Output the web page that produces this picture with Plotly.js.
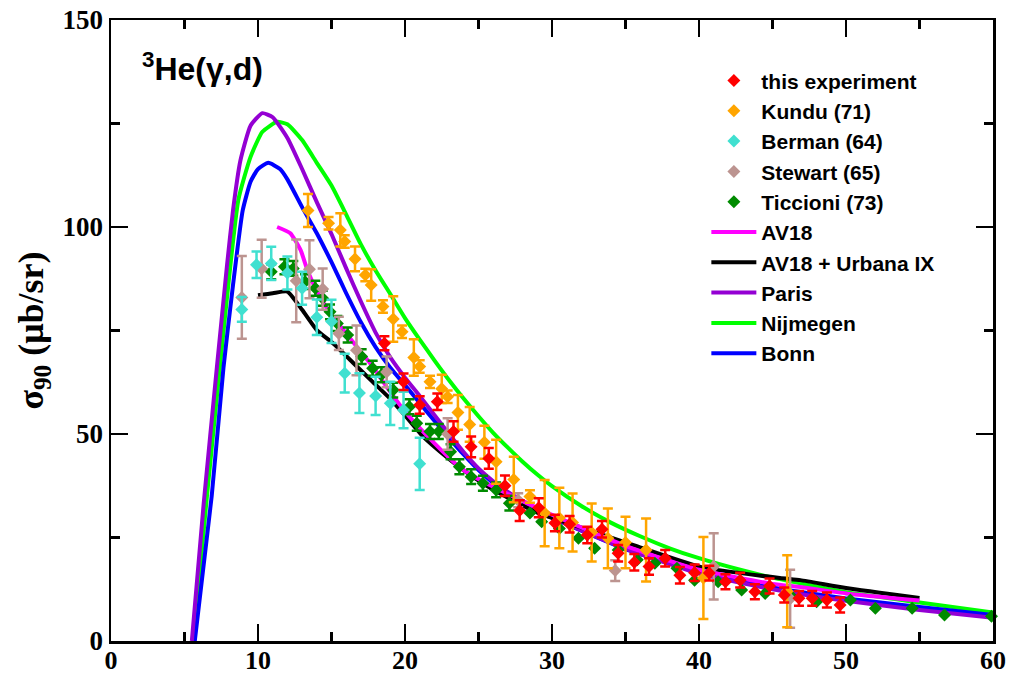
<!DOCTYPE html>
<html>
<head>
<meta charset="utf-8">
<script src="https://cdn.plot.ly/plotly-3.0.1.min.js"></script>
<style>html,body{margin:0;padding:0;background:#fff;}#chart{width:1012px;height:676px;}</style>
</head>
<body>
<div id="chart"></div>
<script>
// ---- data ----
const expX = [18.6,19.9,21.0,22.2,23.3,24.5,25.7,26.8,27.8,29.1,30.2,31.2,32.4,33.4,34.5,35.6,36.6,37.7,38.7,39.7,40.7,41.8,42.8,43.8,44.8,45.8,46.8,47.7,48.7,49.6];
const expY = [71.9,62.6,57.0,57.8,50.6,46.9,44.1,37.5,31.5,32.2,28.5,28.2,25.6,27.0,21.2,19.0,18.0,20.0,15.9,16.5,16.4,14.3,14.7,11.9,13.3,11.1,10.3,10.3,9.9,8.7];
const expE = [1.7,2,2.1,2,2.5,2.5,2.5,2.5,2.5,2.3,2,2,2,2,2,2,2,2,2,2,1.8,1.8,1.8,1.8,1.8,1.8,1.8,1.8,1.8,1.8];

const kunduX = [13.4,14.8,15.6,15.9,16.6,17.3,17.7,18.5,19.2,19.8,20.6,21.0,21.7,22.5,22.9,23.6,24.4,25.4,26.2,27.4,28.5,29.5,30.5,31.4,32.7,33.8,35.0,36.4,40.3,46.0];
const kunduY = [104,100.9,99.3,96.5,92.3,88.4,86,80.8,77.8,74.7,68.5,66.3,62.6,60.9,59,55.2,52.3,48,43.3,39,34.9,30.9,29.7,28.6,26.2,24.8,23.8,22,15.2,12];
const kunduE = [4,1.5,4,1.5,3,1.5,3.8,1.5,5.5,1.5,4.4,1.5,1.5,3.4,1.5,4.2,4.2,4,5.3,5.5,1.5,8,7.3,7,7,7.2,6.2,7.6,9.9,8.7];

const bermanX = [8.9,9.9,10.9,12.0,13.0,14.0,15.0,15.9,16.9,18.0,19.0,19.9,21.0];
const bermanY = [80.1,90.9,91.2,88.9,85.2,78.2,77.2,64.7,59.9,59.2,57.4,55.8,42.8];
const bermanE = [3,3.2,4,4,4,4.3,5.2,4.7,4.8,4.6,5.2,4.4,6.3];

const stewartX = [8.9,10.25,12.6,13.5,14.4,15.5,16.7,18.75,22.9,27.7,34.3,41.0,46.2];
const stewartY = [83,89.9,87,89.8,85,74.3,70.2,65,50,34,17,18,10.2];
const stewartE = [10,7,10,7,5,4,6,3.7,3.8,1.7,2.5,8,7];

const ticX = [10.9,11.8,12.4,13.2,13.9,14.4,14.9,15.4,16.1,17.05,17.8,18.4,19.2,20.3,20.8,21.7,22.3,23.1,23.7,24.5,25.3,26.2,27.1,28.5,29.3,30.5,31.8,32.9,34.5,35.8,37.0,38.5,39.7,41.3,42.9,44.5,46.2,48.0,50.3,52.0,54.5,56.7,59.9];
const ticY = [89.2,90.4,90,86.8,85.2,82.8,79.5,76.7,73.9,68.7,65.9,64.3,60.6,56.6,52.6,50.6,50.6,45.7,42.1,39.7,38.1,36.5,33.3,30.9,28.8,27.2,24.8,22.4,22,19.6,18.8,17.6,14.7,14.3,12.3,11.5,11.1,9.5,9.9,7.9,7.9,6.3,6];
const ticE = [1.8,1.8,1.8,1.8,1.8,1.8,1.8,1.8,1.8,1.8,1.8,1.8,1.8,1.8,1.8,1.8,1.8,1.8,1.8,1.8,1.8,1.8,1.8,0,0,0,0,0,0,0,0,0,0,0,0,0,0,0,0,0,0,0,0];

const av18X = [11.3,12.2,12.9,13.4,14.2,15.1,16.0,16.9,17.8,18.75,20.1,21.25,22.5,23.7,25.1,26.9,30,35,40,45,47,50,55];
const av18Y = [100,98.5,94.4,89.2,83.2,78.3,74.3,70.3,66.3,61.4,55,50.5,46.0,42.0,38.9,35.7,30.5,23,17.2,13.8,13,11.5,9.8];

const uixX = [10,11,12,13,14,15.1,16.5,17.8,19.0,20,21.25,22.8,24,25.5,27,29,31.9,35.5,40.1,45.5,46.9,50,55];
const uixY = [83.5,84,84.4,80,75.1,71.9,67.1,62.6,58.5,54.5,49.3,44.5,41.2,37.6,34.6,31,27.5,23.2,17.9,15.2,14.7,12.8,10.4];

const parisX = [5.5,6.3,7.2,7.9,8.3,8.8,9.5,10.3,11,12,13,14,15,16,17,18,19,20,21,22,23,24,25,26,27,28,30,32,35,40,45,50,55,60];
const parisY = [0,33,66,91,104,116,124.5,127.5,126.5,121.5,114,106,98.3,90,82,74.5,68.5,63.6,59.2,54.6,50,45.6,41.7,38.6,36,33.9,30,26.7,22.3,16.3,12.5,9.7,7.5,5.6];

const nijX = [5.6,6.5,7.4,8.66,9.5,10.3,11.3,12,13,14,15,16,17,18,19,20,21,22,23,24,25,26,27,28,29,30,32,34,36,38,40,42.8,45,50,55,60];
const nijY = [0,34,66,106.5,117,123,125.4,124.8,121,115.5,110,103,95.8,89.5,83.8,78,72.8,67.8,63,58.5,54.3,50.3,46.7,43.3,40.2,37.4,32.6,28.6,25.3,22.4,20,17.2,15.3,11.8,9.3,6.9];

const bonnX = [5.7,6.85,7.65,8.3,8.96,9.5,10,10.7,11.5,12,13,14,15,16,17,18,19,20,21,22,23,24,25,26,27,28,30,35,40,45,50,55,60];
const bonnY = [0,35,66,86,104,111,114,115.5,114,111.5,104.8,98.5,91.5,84,77,71,66,61.8,57.5,53.2,49,45,41.3,38.2,35.7,33.6,29.8,22.2,16.6,12.9,10.3,8.2,6.3];

// ---- styling ----
const serif = 'Liberation Serif, Times New Roman, serif';
const sans = 'Liberation Sans, Arial, sans-serif';

function pts(name, x, y, e, color, rank) {
  return {
    type: 'scatter', mode: 'markers', name: name, x: x, y: y, legendrank: rank,
    marker: {symbol: 'diamond', size: 10, color: color, line: {width: 0}},
    error_y: {type: 'data', array: e, visible: true, color: color, thickness: 2.5, width: 5},
    cliponaxis: false
  };
}
function curve(name, x, y, color, rank) {
  return {
    type: 'scatter', mode: 'lines', name: name, x: x, y: y, legendrank: rank,
    line: {color: color, width: 4, shape: 'spline', smoothing: 0.5}
  };
}

const data = [
  curve('Nijmegen', nijX, nijY, '#00ff00', 9),
  curve('Bonn', bonnX, bonnY, '#0000ff', 10),
  curve('Paris', parisX, parisY, '#9400d3', 8),
  curve('AV18 + Urbana IX', uixX, uixY, '#000000', 7),
  curve('AV18', av18X, av18Y, '#ff00ff', 6),
  pts('Ticcioni (73)', ticX, ticY, ticE, '#008b00', 5),
  pts('Stewart (65)', stewartX, stewartY, stewartE, '#bc9490', 4),
  pts('Berman (64)', bermanX, bermanY, bermanE, '#40e0d0', 3),
  pts('Kundu (71)', kunduX, kunduY, kunduE, '#ffa500', 2),
  pts('this experiment', expX, expY, expE, '#ff0000', 1)
];

const axisCommon = {
  ticks: 'inside', ticklen: 17, tickwidth: 2.5, tickcolor: '#000',
  showline: true, linewidth: 2.5, linecolor: '#000', mirror: 'allticks',
  showgrid: false, zeroline: false, fixedrange: true
};

const layout = {
  width: 1012, height: 676,
  margin: {l: 111, r: 19, t: 20, b: 35},
  paper_bgcolor: '#fff', plot_bgcolor: '#fff',
  showlegend: true,
  xaxis: Object.assign({}, axisCommon, {
    range: [0, 60], tick0: 0, dtick: 10, ticklabelstandoff: -6,
    tickfont: {family: serif, size: 26, color: '#000', weight: 'bold'},
    minor: {dtick: 5, ticks: 'inside', ticklen: 9, tickwidth: 2.5, tickcolor: '#000', showgrid: false}
  }),
  yaxis: Object.assign({}, axisCommon, {
    range: [0, 150], tick0: 0, dtick: 50,
    tickfont: {family: serif, size: 27, color: '#000', weight: 'bold'},
    minor: {dtick: 25, ticks: 'inside', ticklen: 9, tickwidth: 2.5, tickcolor: '#000', showgrid: false},
    title: {text: 'σ<sub>90</sub> (μb/sr)', font: {family: serif, size: 36, color: '#000', weight: 'bold'}, standoff: 8}
  }),
  legend: {
    x: 0.675, y: 0.935, xanchor: 'left', yanchor: 'top', itemwidth: 45,
    bgcolor: 'rgba(0,0,0,0)', borderwidth: 0,
    font: {family: sans, size: 21, color: '#000', weight: 'bold'}
  },
  annotations: [{
    xref: 'paper', yref: 'paper', x: 0.033, y: 0.924, xanchor: 'left', yanchor: 'middle',
    text: '<sup>3</sup>He(γ,d)', showarrow: false,
    font: {family: sans, size: 32, color: '#000', weight: 'bold'}
  }]
};

Plotly.newPlot('chart', data, layout, {displayModeBar: false, staticPlot: true});
</script>
</body>
</html>
